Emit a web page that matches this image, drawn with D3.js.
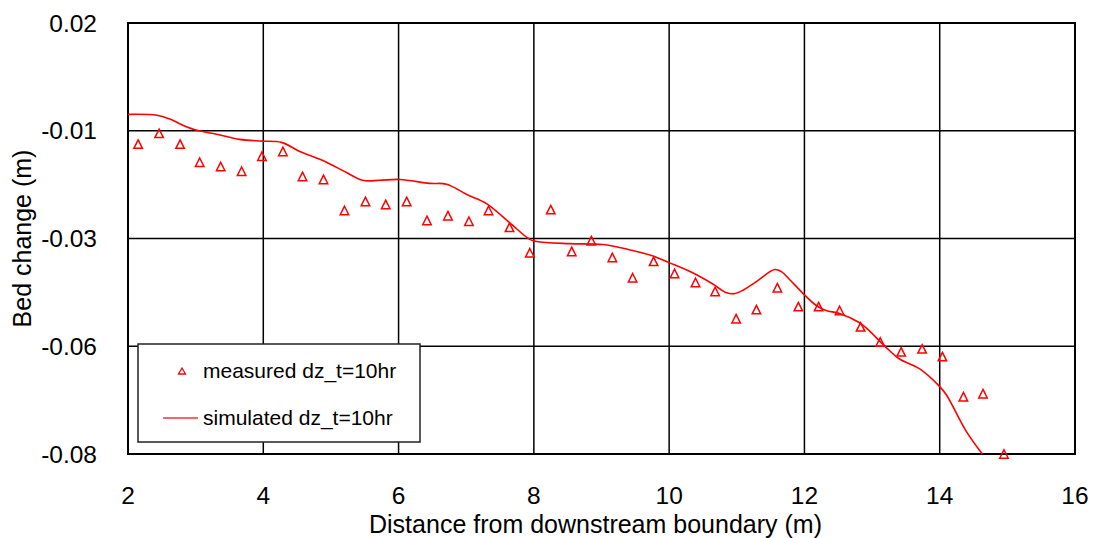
<!DOCTYPE html>
<html>
<head>
<meta charset="utf-8">
<script src="https://cdn.jsdelivr.net/npm/d3@7"></script>
<style>
  body { margin: 0; background: #fff; }
  svg { display: block; font-family: 'Liberation Sans', Arial, sans-serif; }
</style>
</head>
<body>
<div id="chart"></div>
<script>
'use strict';

// measured bed change (triangles)
var measuredX = [2.15, 2.46, 2.77, 3.06, 3.37, 3.68, 3.98, 4.29, 4.58, 4.89,
  5.20, 5.51, 5.81, 6.12, 6.42, 6.73, 7.04, 7.33, 7.64, 7.94,
  8.25, 8.56, 8.85, 9.16, 9.46, 9.77, 10.08, 10.39, 10.68, 10.99,
  11.29, 11.60, 11.91, 12.21, 12.52, 12.83, 13.12, 13.43, 13.74, 14.04,
  14.35, 14.64, 14.95];
var measuredY = [-0.0081, -0.0056, -0.0081, -0.0123, -0.0133, -0.0144, -0.0109, -0.0098, -0.0156, -0.0163,
  -0.0235, -0.0214, -0.0221, -0.0214, -0.0258, -0.0247, -0.0260, -0.0235, -0.0274, -0.0333,
  -0.0233, -0.0330, -0.0305, -0.0344, -0.0391, -0.0353, -0.0381, -0.0402, -0.0423, -0.0486,
  -0.0465, -0.0414, -0.0458, -0.0458, -0.0467, -0.0505, -0.0540, -0.0563, -0.0556, -0.0574,
  -0.0667, -0.0660, -0.0800];

// simulated bed change (line)
var simulatedX = [2.00, 2.43, 2.62, 2.81, 3.02, 3.31, 3.65, 3.99, 4.27, 4.54,
  4.88, 5.23, 5.47, 5.72, 6.02, 6.46, 6.71, 7.01, 7.30, 7.64,
  7.94, 8.04, 8.53, 9.02, 9.41, 9.75, 10.00, 10.34, 10.64, 10.85,
  10.96, 11.08, 11.29, 11.56, 11.66, 11.78, 11.97, 12.18, 12.32, 12.52,
  12.81, 12.91, 13.21, 13.40, 13.70, 13.99, 14.10, 14.39, 14.63];
var simulatedY = [-0.0012, -0.0014, -0.0023, -0.0037, -0.0049, -0.0058, -0.0070, -0.0074, -0.0077, -0.0098,
  -0.0119, -0.0147, -0.0165, -0.0165, -0.0163, -0.0172, -0.0174, -0.0198, -0.0219, -0.0263,
  -0.0302, -0.0307, -0.0312, -0.0314, -0.0326, -0.0340, -0.0356, -0.0379, -0.0405, -0.0426,
  -0.0428, -0.0421, -0.0400, -0.0372, -0.0377, -0.0395, -0.0426, -0.0456, -0.0467, -0.0474,
  -0.0495, -0.0507, -0.0553, -0.0579, -0.0602, -0.0642, -0.0663, -0.0747, -0.0800];

var xTicks = [2, 4, 6, 8, 10, 12, 14, 16];
var yTickValues = [0.02, -0.005, -0.03, -0.055, -0.08];
var yTickLabels = ['0.02', '-0.01', '-0.03', '-0.06', '-0.08'];
var seriesNames = ['measured dz_t=10hr', 'simulated dz_t=10hr'];

var width = 1096, height = 538;
var margin = {top: 23, right: 21, bottom: 84, left: 128};
var plotW = width - margin.left - margin.right;
var plotH = height - margin.top - margin.bottom;

var svg = d3.select('#chart').append('svg')
  .attr('width', width)
  .attr('height', height);

var x = d3.scaleLinear().domain([2, 16]).range([0, plotW]);
var y = d3.scaleLinear().domain([-0.08, 0.02]).range([plotH, 0]);

var g = svg.append('g')
  .attr('transform', 'translate(' + margin.left + ',' + margin.top + ')');

// grid
g.append('g').selectAll('line')
  .data(xTicks)
  .enter().append('line')
  .attr('x1', function(d) { return x(d); })
  .attr('x2', function(d) { return x(d); })
  .attr('y1', 0).attr('y2', plotH)
  .attr('stroke', '#000').attr('stroke-width', 1.5);

g.append('g').selectAll('line')
  .data(yTickValues)
  .enter().append('line')
  .attr('x1', 0).attr('x2', plotW)
  .attr('y1', function(d) { return y(d); })
  .attr('y2', function(d) { return y(d); })
  .attr('stroke', '#000').attr('stroke-width', 1.5);

g.append('rect')
  .attr('width', plotW).attr('height', plotH)
  .attr('fill', 'none').attr('stroke', '#000').attr('stroke-width', 2);

// tick labels
g.append('g').selectAll('text')
  .data(xTicks)
  .enter().append('text')
  .attr('x', function(d) { return x(d); })
  .attr('y', plotH + 50)
  .attr('text-anchor', 'middle')
  .attr('font-size', 24.5)
  .text(function(d) { return d; });

g.append('g').selectAll('text')
  .data(yTickValues)
  .enter().append('text')
  .attr('x', -31)
  .attr('y', function(d) { return y(d) + 8.5; })
  .attr('text-anchor', 'end')
  .attr('font-size', 24.5)
  .text(function(d, i) { return yTickLabels[i]; });

// axis titles
svg.append('text')
  .attr('x', margin.left + plotW / 2 - 6)
  .attr('y', 533)
  .attr('text-anchor', 'middle')
  .attr('font-size', 25)
  .text('Distance from downstream boundary (m)');

svg.append('text')
  .attr('transform', 'translate(31,' + (margin.top + plotH / 2) + ') rotate(-90)')
  .attr('text-anchor', 'middle')
  .attr('font-size', 25)
  .text('Bed change (m)');

// simulated line
var simData = simulatedX.map(function(d, i) { return {x: d, y: simulatedY[i]}; });
var line = d3.line()
  .x(function(d) { return x(d.x); })
  .y(function(d) { return y(d.y); })
  .curve(d3.curveCatmullRom.alpha(0.5));

g.append('path')
  .datum(simData)
  .attr('d', line)
  .attr('fill', 'none')
  .attr('stroke', '#ff0000')
  .attr('stroke-width', 1.6);

// measured triangles
function triangle(cx, cy, w, h) {
  return 'M' + cx + ',' + (cy - h / 2) +
    'L' + (cx + w / 2) + ',' + (cy + h / 2) +
    'L' + (cx - w / 2) + ',' + (cy + h / 2) + 'Z';
}

var measData = measuredX.map(function(d, i) { return {x: d, y: measuredY[i]}; });
g.append('g').selectAll('path')
  .data(measData)
  .enter().append('path')
  .attr('d', function(d) { return triangle(x(d.x), y(d.y), 8.5, 8.5); })
  .attr('fill', 'none')
  .attr('stroke', '#ff0000')
  .attr('stroke-width', 1.5);

// legend
var legend = svg.append('g').attr('transform', 'translate(138,344)');
legend.append('rect')
  .attr('width', 282).attr('height', 98)
  .attr('fill', '#fff')
  .attr('stroke', '#222').attr('stroke-width', 1.5);

legend.append('path')
  .attr('d', triangle(44, 27, 7, 6))
  .attr('fill', 'none')
  .attr('stroke', '#ff0000')
  .attr('stroke-width', 1.3);

legend.append('line')
  .attr('x1', 25).attr('x2', 60)
  .attr('y1', 74).attr('y2', 74)
  .attr('stroke', '#ff3030').attr('stroke-width', 1.6);

legend.selectAll('text.lbl')
  .data(seriesNames)
  .enter().append('text')
  .attr('class', 'lbl')
  .attr('x', 65)
  .attr('y', function(d, i) { return 34 + i * 47; })
  .attr('font-size', 21)
  .text(function(d) { return d; });
</script>
</body>
</html>
